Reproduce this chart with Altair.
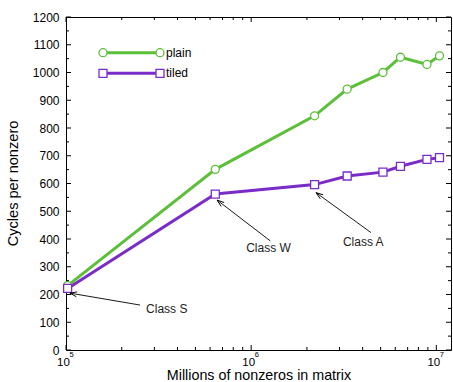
import altair as alt
import pandas as pd

# ---- data ----
nnz = [1.02e5, 6.4e5, 2.2e6, 3.3e6, 5.15e6, 6.4e6, 8.9e6, 1.04e7]
plain = [232, 651, 844, 940, 1000, 1055, 1029, 1060]
tiled = [222, 562, 596, 627, 641, 662, 687, 693]

series_names = ["plain", "tiled"]
series_colors = ["#5cbf3a", "#7a2cc8"]
series_shapes = ["circle", "square"]

x_ticks_major = [1e5, 1e6, 1e7]
x_tick_base = "10"
x_tick_exps = ["5", "6", "7"]
x_ticks_minor = [2e5, 3e5, 4e5, 5e5, 6e5, 7e5, 8e5, 9e5,
                 2e6, 3e6, 4e6, 5e6, 6e6, 7e6, 8e6, 9e6]
y_ticks_major = [0, 100, 200, 300, 400, 500, 600, 700, 800, 900, 1000, 1100, 1200]
y_ticks_minor = [50, 150, 250, 350, 450, 550, 650, 750, 850, 950, 1050, 1150]

ann_text = ["Class S", "Class W", "Class A"]
ann_tx = [3.5e5, 1.24e6, 4.03e6]
ann_ty = [148, 368, 390]
arrow_x0 = [2.51e5, 1.27e6, 4.44e6]
arrow_y0 = [162, 393, 423]
arrow_x1 = [1.05e5, 6.55e5, 2.24e6]
arrow_y1 = [205, 540, 567]
arrow_angle = [280, 308, 306]

W, H = 385, 333
FONT = "Liberation Sans"

# ---- tables ----
rows = []
for name, vals in zip(series_names, [plain, tiled]):
    for xv, yv in zip(nnz, vals):
        rows.append({"nnz": xv, "value": yv, "series": name})
df = pd.DataFrame(rows)

xscale = alt.Scale(type="log", domain=[1e5, 1.2e7], nice=False)
yscale = alt.Scale(domain=[0, 1200], nice=False)
cscale = alt.Scale(domain=series_names, range=series_colors)
sscale = alt.Scale(domain=series_names, range=series_shapes)

x_axis = alt.Axis(values=x_ticks_major, labelExpr=f"'{x_tick_base}'", ticks=False,
                  domain=False, grid=False, labelFontSize=11.5, labelPadding=6.5,
                  labelOffset=-3, labelFlush=False, labelColor="black",
                  title="Millions of nonzeros in matrix", titleFontSize=14.3,
                  titleFontWeight="normal", titleColor="black",
                  titleX=W / 2, titleY=32, titleBaseline="bottom", titleAlign="center")
y_axis = alt.Axis(values=y_ticks_major, format="d", ticks=False, domain=False, grid=False,
                  labelFontSize=12, labelPadding=7, labelFlush=False, labelColor="black",
                  title="Cycles per nonzero", titleFontSize=14.6, titleFontWeight="normal",
                  titleColor="black", titleX=-53, titleY=166, titleAngle=-90,
                  titleAlign="center", titleBaseline="middle")


def X(field):
    return alt.X(field, scale=xscale, axis=x_axis)


def Y(field):
    return alt.Y(field, scale=yscale, axis=y_axis)


base = alt.Chart(df)
lines = base.mark_line(strokeWidth=3).encode(
    x=X("nnz:Q"), y=Y("value:Q"),
    color=alt.Color("series:N", scale=cscale, legend=None),
    detail="series:N",
)
points = base.mark_point(filled=False, fill="white", fillOpacity=1, size=64,
                         strokeWidth=1.3, opacity=1).encode(
    x=X("nnz:Q"), y=Y("value:Q"),
    color=alt.Color("series:N", scale=cscale, legend=None),
    shape=alt.Shape("series:N", scale=sscale, legend=None),
)


# ---- inward ticks on all four sides ----
def yticks(vals, length):
    d = pd.DataFrame({"value": vals})
    left = alt.Chart(d).mark_rule(color="black", strokeWidth=1).encode(
        y=Y("value:Q"), x=alt.value(0), x2=alt.value(length))
    right = alt.Chart(d).mark_rule(color="black", strokeWidth=1).encode(
        y=Y("value:Q"), x=alt.value(W), x2=alt.value(W - length))
    return [left, right]


def xticks(vals, length):
    d = pd.DataFrame({"nnz": vals})
    bot = alt.Chart(d).mark_rule(color="black", strokeWidth=1).encode(
        x=X("nnz:Q"), y=alt.value(H), y2=alt.value(H - length))
    top = alt.Chart(d).mark_rule(color="black", strokeWidth=1).encode(
        x=X("nnz:Q"), y=alt.value(0), y2=alt.value(length))
    return [bot, top]


tick_layers = yticks(y_ticks_major, 5) + yticks(y_ticks_minor, 3) + \
    xticks(x_ticks_major, 5) + xticks(x_ticks_minor, 3)

# exponents of the x tick labels (10^n)
exp_df = pd.DataFrame({"nnz": x_ticks_major, "exp": x_tick_exps})
exp_layer = alt.Chart(exp_df).mark_text(fontSize=7.5, font=FONT, color="black",
                                        align="left", baseline="middle", dx=3.5).encode(
    x=X("nnz:Q"), y=alt.value(H + 4.5), text="exp:N")

# ---- annotations ----
ann_df = pd.DataFrame({"text": ann_text, "tx": ann_tx, "ty": ann_ty,
                       "x0": arrow_x0, "y0": arrow_y0, "x1": arrow_x1, "y1": arrow_y1,
                       "ang": arrow_angle})
ann_base = alt.Chart(ann_df)
ann_text_layer = ann_base.mark_text(fontSize=12, font=FONT, color="#222222",
                                    align="center", baseline="middle").encode(
    x=X("tx:Q"), y=Y("ty:Q"), text="text:N",
)
ann_rules = ann_base.mark_rule(color="black", strokeWidth=0.9).encode(
    x=X("x0:Q"), x2="x1:Q", y=Y("y0:Q"), y2="y1:Q",
)
ann_heads = ann_base.mark_point(shape="M -0.35 1 L 0 0 L 0.35 1", filled=False,
                                color="black", strokeWidth=0.9, size=196, opacity=1).encode(
    x=X("x1:Q"), y=Y("y1:Q"),
    angle=alt.Angle("ang:Q", scale=None),
)

# ---- legend ----
legend_layers = []
leg_y = [35.7, 56.3]
one = alt.Data(values=[{"a": 1}])
for name, col, shp, ly in zip(series_names, series_colors, series_shapes, leg_y):
    legend_layers.append(alt.Chart(one).mark_rule(color=col, strokeWidth=3).encode(
        x=alt.value(37), x2=alt.value(94), y=alt.value(ly)))
    for lx in (37, 94):
        legend_layers.append(alt.Chart(one).mark_point(
            shape=shp, filled=False, fill="white", fillOpacity=1, color=col,
            size=64, strokeWidth=1.3, opacity=1).encode(x=alt.value(lx), y=alt.value(ly)))
    legend_layers.append(alt.Chart(one).mark_text(
        text=name, fontSize=12, font=FONT, color="black", align="left",
        baseline="middle").encode(x=alt.value(100), y=alt.value(ly)))

chart = alt.layer(
    lines, points, *tick_layers, exp_layer, ann_rules, ann_heads, ann_text_layer,
    *legend_layers
).properties(
    width=W, height=H,
    autosize=alt.AutoSizeParams(type="none"),
    padding={"left": 66, "top": 17, "right": 2, "bottom": 32},
).configure(
    font=FONT, background="white"
).configure_view(
    stroke="black", strokeWidth=1
)

chart.save("out.html", embed_options={"renderer": "svg", "actions": False})
